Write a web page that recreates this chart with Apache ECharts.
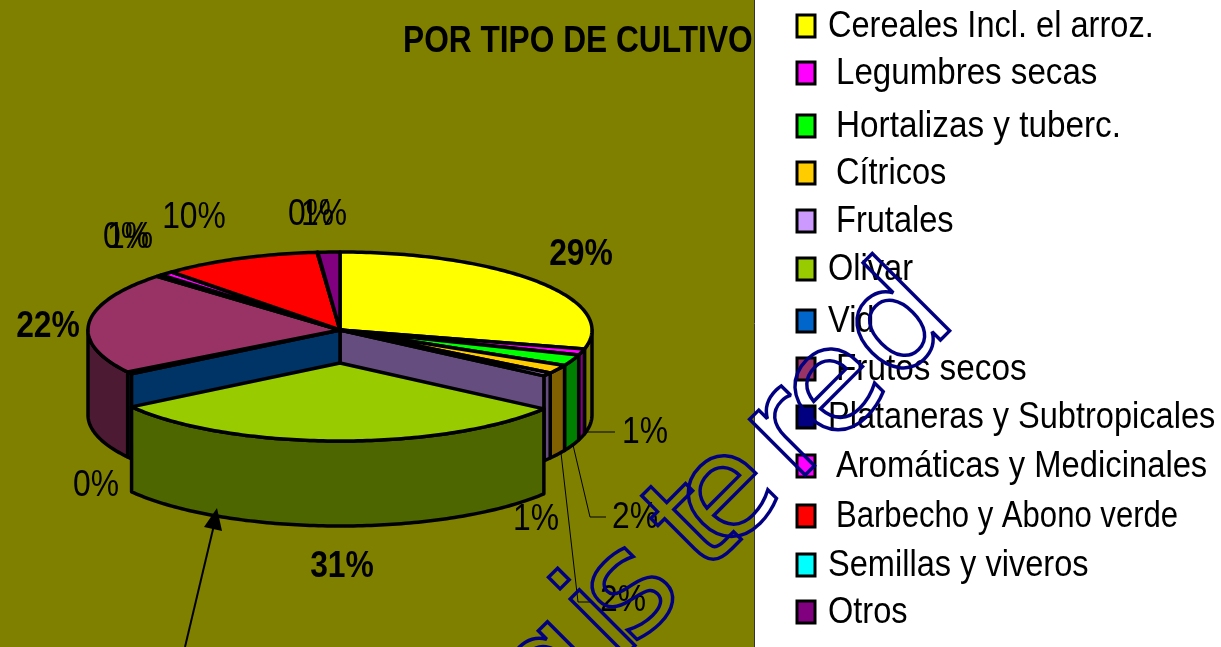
<!DOCTYPE html>
<html>
<head>
<meta charset="utf-8">
<style>
html, body { margin: 0; padding: 0; background: #fff; }
#chart { width: 1221px; height: 647px; }
</style>
<script src="https://cdn.jsdelivr.net/npm/echarts@6/dist/echarts.min.js"></script>
</head>
<body>
<div id="chart"></div>
<script>
// datos
var categories = ['Cereales Incl. el arroz.', 'Legumbres secas', 'Hortalizas y tuberc.', 'Cítricos', 'Frutales', 'Olivar', 'Vid', 'Frutos secos', 'Plataneras y Subtropicales', 'Aromáticas y Medicinales', 'Barbecho y Abono verde', 'Semillas y viveros', 'Otros'];
var shares = [28.9, 1.3, 2.3, 1.8, 0.7, 30.5, 0.45, 21.1, 0.4, 0.9, 10.2, 0.05, 1.4];
var shareLabels = ['29%', '1%', '2%', '2%', '1%', '31%', '0%', '22%', '0%', '1%', '10%', '0%', '1%'];

// estilo
var sliceColors = ['#ffff00', '#ff00ff', '#00ff00', '#ffcc00', '#cc99ff', '#99cc00', '#0066cc', '#993366', '#000080', '#ff00ff', '#ff0000', '#00ffff', '#800080'];
var wallColors = ['#808000', '#800080', '#008000', '#806000', '#664d80', '#4d6600', '#003366', '#4d1a33', '#000040', '#800080', '#800000', '#008080', '#400040'];
var indented = [false, true, true, true, true, false, false, true, false, true, true, false, false];
var legendRows = [27, 74, 127, 174, 222, 270, 322, 370, 418, 467, 517, 566, 613];
// el original usa letra estrecha, cada fila un poco distinta
var legendSqueeze = [0.88, 0.895, 0.9, 0.88, 0.88, 0.88, 0.88, 0.9, 0.88, 0.885, 0.84, 0.88, 0.88];
var boldLabels = [true, false, false, false, false, true, false, true, false, false, false, false, false];
var labelSpots = [[581, 252], [645, 430], [635, 515], [623, 598], [536, 517], [342, 564], [96, 483], [48, 324], [126, 235], [130, 235], [194, 215], [311, 212], [324, 212]];
var leaders = { 1: [[585, 432], [615, 432]], 2: [[573, 445], [590, 517], [606, 517]], 3: [[561, 453], [578, 602], [590, 602]] };
// marca de agua: letras y su avance a lo largo de la diagonal
var stampLetters = ['g', 'i', 's', 't', 'e', 'r', 'e', 'd'];
var stampOffsets = [-85, -14, 28, 118, 163, 250, 314, 405];

var FONT = '"Liberation Sans", Arial, sans-serif';
var CX = 340, CY = 330, RX = 252, RY = 78, DEPTH = 85;
var EXPLODED = 5, EXPLODE_DY = 33;
var STAMP_LINE = 868;

var chart = echarts.init(document.getElementById('chart'));

function edge(deg, dy) {
    var a = deg * Math.PI / 180;
    return [CX + RX * Math.sin(a), CY - RY * Math.cos(a) + dy];
}

function arc(from, to, dy) {
    var pts = [];
    var n = Math.max(1, Math.ceil(Math.abs(to - from)));
    for (var i = 0; i <= n; i++) {
        pts.push(edge(from + (to - from) * i / n, dy));
    }
    return pts;
}

function face(points, fill, z2) {
    return {
        type: 'polygon',
        z2: z2,
        shape: { points: points },
        style: { fill: fill, stroke: '#000', lineWidth: 3.5, lineJoin: 'round' }
    };
}

function radialWall(deg, dy, fill, z2) {
    var e = edge(deg, dy);
    return face([[CX, CY + dy], e, [e[0], e[1] + DEPTH], [CX, CY + dy + DEPTH]], fill, z2);
}

function renderSlice(i, api) {
    var from = api.value(0) * 3.6;
    var to = api.value(1) * 3.6;
    var dy = i === EXPLODED ? EXPLODE_DY : 0;
    var lift = i === EXPLODED ? 10 : 0;
    var children = [];

    // pared exterior, solo la mitad delantera se ve
    var a = Math.max(from, 90), b = Math.min(to, 270);
    if (b > a) {
        var top = arc(a, b, dy);
        var bottom = arc(b, a, dy + DEPTH);
        children.push(face(top.concat(bottom), wallColors[i], 2 + lift));
    }
    // paredes que deja ver la porcion separada
    if (i === EXPLODED - 1) children.push(radialWall(to, 0, wallColors[i], 3));
    if (i === EXPLODED + 1) children.push(radialWall(from, 0, wallColors[i], 3));

    // cara superior
    children.push(face([[CX, CY + dy]].concat(arc(from, to, dy)), sliceColors[i], 4 + lift));

    if (leaders[i]) {
        children.push({
            type: 'polyline',
            z2: 20,
            shape: { points: leaders[i] },
            style: { fill: 'none', stroke: '#000', lineWidth: 1 }
        });
    }
    children.push({
        type: 'text',
        z2: 21,
        x: labelSpots[i][0],
        y: labelSpots[i][1] + 3,
        scaleX: 0.86,
        style: {
            text: shareLabels[i],
            font: (boldLabels[i] ? 'bold ' : '') + '37px ' + FONT,
            fill: '#000',
            align: 'center',
            verticalAlign: 'middle'
        }
    });
    return { type: 'group', children: children };
}

var running = 0;
var series = categories.map(function (name, i) {
    var start = running;
    running += shares[i];
    return {
        type: 'custom',
        name: name,
        coordinateSystem: 'none',
        silent: true,
        animation: false,
        z: 2,
        itemStyle: { color: sliceColors[i] },
        data: [[start, running]],
        renderItem: function (params, api) {
            return renderSlice(i, api);
        }
    };
});

var graphics = [
    { type: 'rect', z: -1, shape: { x: 0, y: 0, width: 754, height: 647 }, style: { fill: '#808000' } },
    { type: 'line', z: -1, shape: { x1: 754.5, y1: 0, x2: 754.5, y2: 647 }, style: { stroke: '#333', lineWidth: 1 } },
    {
        type: 'text',
        z: 5,
        x: 403,
        y: 42,
        scaleX: 0.88,
        style: { text: 'POR TIPO DE CULTIVO', font: 'bold 36px ' + FONT, fill: '#000', align: 'left', verticalAlign: 'middle' }
    },
    // flecha
    { type: 'line', z: 10, shape: { x1: 185, y1: 647, x2: 214, y2: 525 }, style: { stroke: '#000', lineWidth: 2 } },
    { type: 'polygon', z: 10, shape: { points: [[217, 508], [204, 527], [222, 531]] }, style: { fill: '#000' } }
];

// marca de agua, letra a letra
stampLetters.forEach(function (ch, i) {
    graphics.push({
        type: 'text',
        z: 20,
        silent: true,
        x: Math.SQRT1_2 * (STAMP_LINE + stampOffsets[i]),
        y: Math.SQRT1_2 * (STAMP_LINE - stampOffsets[i]),
        rotation: Math.PI / 4,
        style: {
            text: ch,
            font: '144px "DejaVu Sans"',
            fill: 'transparent',
            stroke: '#000080',
            lineWidth: 3.5,
            align: 'center',
            verticalAlign: 'middle'
        }
    });
});

// leyenda
categories.forEach(function (name, i) {
    graphics.push({
        type: 'rect',
        z: 6,
        shape: { x: 797, y: legendRows[i] - 12, width: 18, height: 22 },
        style: { fill: sliceColors[i], stroke: '#000', lineWidth: 3 }
    });
    graphics.push({
        type: 'text',
        z: 6,
        x: indented[i] ? 836 : 828,
        y: legendRows[i],
        scaleX: legendSqueeze[i],
        style: { text: name, font: '37px ' + FONT, fill: '#000', align: 'left', verticalAlign: 'middle' }
    });
});

var option = {
    backgroundColor: '#fff',
    animation: false,
    graphic: graphics,
    series: series
};

chart.setOption(option);
</script>
</body>
</html>
